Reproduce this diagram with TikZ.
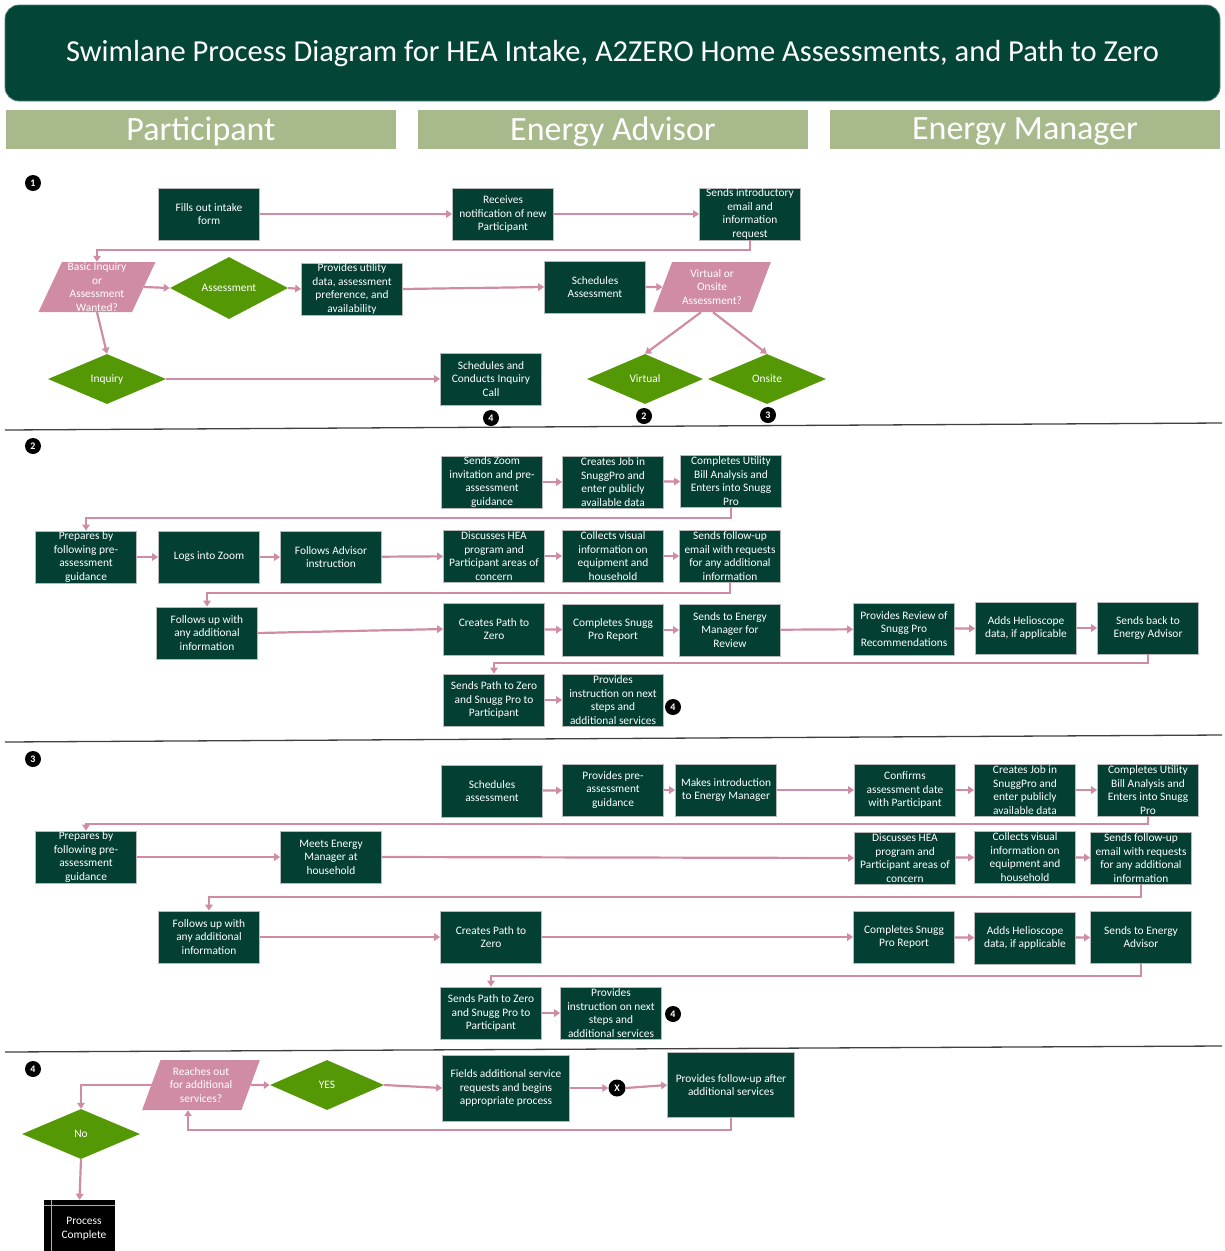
\documentclass[tikz,border=0pt]{standalone}
\usepackage{fontspec}
\setmainfont{Carlito}
\usetikzlibrary{shapes.geometric,arrows.meta}
\definecolor{hdr}{RGB}{3,70,56}
\definecolor{boxg}{RGB}{4,63,52}
\definecolor{laneg}{RGB}{168,186,140}
\definecolor{pinkc}{RGB}{208,140,164}
\definecolor{dgreen}{RGB}{84,152,6}
\newcommand\bxf{\fontsize{11.4}{13.6}\selectfont}
\tikzset{
  box/.style={rectangle, fill=boxg, draw=gray!55, line width=0.7pt, text=white,
    minimum width=101pt, minimum height=52pt, inner sep=0pt, align=center, font=\bxf},
  dia/.style={diamond, fill=dgreen, text=white, inner sep=0pt, minimum width=118pt,
    minimum height=50pt, font=\bxf},
  para/.style={trapezium, trapezium left angle=68, trapezium right angle=112,
    trapezium stretches=true, fill=pinkc, text=white, minimum width=118pt,
    minimum height=50pt, inner sep=0pt, align=center, font=\bxf},
  arr/.style={draw=pinkc, line width=2.2pt, -{Triangle[length=6pt,width=7.5pt]}},
  num/.style={circle, fill=black, text=white, minimum size=16pt, inner sep=0pt,
    font=\fontsize{10}{10}\selectfont\bfseries},
  lane/.style={rectangle, fill=laneg, minimum width=390pt,
    minimum height=39pt, inner sep=0pt},
  lanetxt/.style={text=white, inner sep=0pt, font=\fontsize{34}{36}\selectfont},
  sep/.style={draw=black!75, line width=1.3pt},
}
\begin{document}
\begin{tikzpicture}[x=1pt,y=-1pt]
\useasboundingbox (0,0) rectangle (1225,1251);
% header
\node[fill=hdr, rounded corners=14pt, draw=hdr!70!white, line width=0.8pt,
  minimum width=1215pt, minimum height=96pt] (title) at (612.5,53) {};
\node[text=white, font=\fontsize{30.5}{33}\selectfont, inner sep=0pt] (titletxt) at (612.5,54)
  {Swimlane Process Diagram for HEA Intake, A2ZERO Home Assessments, and Path to Zero};
\node[lane] (lp) at (201,129.5) {};
\node[lane] (la) at (613,129.5) {};
\node[lane] (lm) at (1025,129.5) {};
\node[lanetxt] (lpt) at (201,131.5) {Participant};
\node[lanetxt] (lat) at (613,131.5) {Energy Advisor};
\node[lanetxt] (lmt) at (1025,131.5) {Energy Manager};
% separators
\draw[sep] (5,430) -- (1222,423);
\draw[sep] (5,742) -- (1222,735);
\draw[sep] (5,1052) -- (1222,1046);
% section numbers
\node[num] (s1) at (33,183) {1};
\node[num] (s2) at (33,446) {2};
\node[num] (s3) at (33,759) {3};
\node[num] (s4) at (33,1069) {4};

% ---------- Section 1
\node[box] (fill) at (209,214) {Fills out intake\\form};
\node[box] (recv) at (503,214) {Receives\\notification of new\\Participant};
\node[box] (intro) at (750,214) {Sends introductory\\email and\\information\\request};
\node[para] (bq) at (97,287) {Basic Inquiry\\or\\Assessment\\Wanted?};
\node[dia] (assess) at (229,288) {Assessment};
\node[box] (util) at (352,289) {Provides utility\\data, assessment\\preference, and\\availability};
\node[box] (schA) at (595,287) {Schedules\\Assessment};
\node[para] (vo) at (712,287) {Virtual or\\Onsite\\Assessment?};
\node[dia] (inq) at (107,379) {Inquiry};
\node[box] (call) at (491,379) {Schedules and\\Conducts Inquiry\\Call};
\node[dia, minimum width=116pt] (virt) at (645,379) {Virtual};
\node[dia] (ons) at (767,379) {Onsite};
\node[num] (n1a) at (491,418) {4};
\node[num] (n1b) at (644,416) {2};
\node[num] (n1c) at (768,415) {3};

\draw[arr] (fill) -- (recv);
\draw[arr] (recv) -- (intro);
\draw[arr] (intro.south) -- ++(0,10) -| (bq.north);
\draw[arr] (bq.east) -- (assess.west);
\draw[arr] (assess.east) -- (util.west);
\draw[arr] (util.east) -- (schA.west);
\draw[arr] (schA.east) -- (vo.west);
\draw[arr] ([xshift=-11pt]vo.south) -- (virt.north);
\draw[arr] ([xshift=1pt]vo.south) -- (ons.north);
\draw[arr] (bq.south) -- (inq.north);
\draw[arr] (inq.east) -- (call.west);

% ---------- Section 2
\node[box] (zoom2) at (492,482) {Sends Zoom\\invitation and pre-\\assessment\\guidance};
\node[box] (job2) at (613,482) {Creates Job in\\SnuggPro and\\enter publicly\\available data};
\node[box] (cub2) at (731,481) {Completes Utility\\Bill Analysis and\\Enters into Snugg\\Pro};
\node[box] (prep2) at (86,557) {Prepares by\\following pre-\\assessment\\guidance};
\node[box] (logs2) at (209,557) {Logs into Zoom};
\node[box] (fai2) at (331,557) {Follows Advisor\\instruction};
\node[box] (dh2) at (494,556) {Discusses HEA\\program and\\Participant areas of\\concern};
\node[box] (cv2) at (613,556) {Collects visual\\information on\\equipment and\\household};
\node[box] (sf2) at (730,556) {Sends follow-up\\email with requests\\for any additional\\information};
\node[box] (fu2) at (207,633) {Follows up with\\any additional\\information};
\node[box] (cp2) at (494,629) {Creates Path to\\Zero};
\node[box] (cs2) at (613,630) {Completes Snugg\\Pro Report};
\node[box] (sem2) at (730,630) {Sends to Energy\\Manager for\\Review};
\node[box] (pr2) at (904,629) {Provides Review of\\Snugg Pro\\Recommendations};
\node[box] (ah2) at (1026,628) {Adds Helioscope\\data, if applicable};
\node[box] (sb2) at (1148,628) {Sends back to\\Energy Advisor};
\node[box] (sp2) at (494,700) {Sends Path to Zero\\and Snugg Pro to\\Participant};
\node[box] (pi2) at (613,700) {Provides\\instruction on next\\steps and\\additional services};
\node[num] (n2) at (673,707) {4};

\draw[arr] (zoom2) -- (job2);
\draw[arr] (job2) -- (cub2);
\draw[arr] (cub2.south) -- ++(0,11) -| (prep2.north);
\draw[arr] (prep2) -- (logs2);
\draw[arr] (logs2) -- (fai2);
\draw[arr] (fai2) -- (dh2);
\draw[arr] (dh2) -- (cv2);
\draw[arr] (cv2) -- (sf2);
\draw[arr] (sf2.south) -- ++(0,11) -| (fu2.north);
\draw[arr] (fu2.east) -- (cp2.west);
\draw[arr] (cp2) -- (cs2);
\draw[arr] (cs2) -- (sem2);
\draw[arr] (sem2) -- (pr2);
\draw[arr] (pr2) -- (ah2);
\draw[arr] (ah2) -- (sb2);
\draw[arr] (sb2.south) -- ++(0,9) -| (sp2.north);
\draw[arr] (sp2) -- (pi2);

% ---------- Section 3
\node[box] (sa3) at (492,791) {Schedules\\assessment};
\node[box] (pg3) at (613,790) {Provides pre-\\assessment\\guidance};
\node[box] (mi3) at (726,790) {Makes introduction\\to Energy Manager};
\node[box] (ca3) at (905,790) {Confirms\\assessment date\\with Participant};
\node[box] (cj3) at (1025,790) {Creates Job in\\SnuggPro and\\enter publicly\\available data};
\node[box] (cu3) at (1148,790) {Completes Utility\\Bill Analysis and\\Enters into Snugg\\Pro};
\node[box] (prep3) at (86,857) {Prepares by\\following pre-\\assessment\\guidance};
\node[box] (me3) at (331,857) {Meets Energy\\Manager at\\household};
\node[box] (dh3) at (905,858) {Discusses HEA\\program and\\Participant areas of\\concern};
\node[box] (cv3) at (1025,857) {Collects visual\\information on\\equipment and\\household};
\node[box] (sf3) at (1141,858) {Sends follow-up\\email with requests\\for any additional\\information};
\node[box] (fu3) at (209,937) {Follows up with\\any additional\\information};
\node[box] (cp3) at (491,937) {Creates Path to\\Zero};
\node[box] (cs3) at (904,937) {Completes Snugg\\Pro Report};
\node[box] (ah3) at (1025,938) {Adds Helioscope\\data, if applicable};
\node[box] (se3) at (1141,937) {Sends to Energy\\Advisor};
\node[box] (sp3) at (491,1013) {Sends Path to Zero\\and Snugg Pro to\\Participant};
\node[box] (pi3) at (611,1013) {Provides\\instruction on next\\steps and\\additional services};
\node[num] (n3) at (673,1014) {4};

\draw[arr] (sa3) -- (pg3);
\draw[arr] (pg3) -- (mi3);
\draw[arr] (mi3) -- (ca3);
\draw[arr] (ca3) -- (cj3);
\draw[arr] (cj3) -- (cu3);
\draw[arr] (cu3.south) -- ++(0,8) -| (prep3.north);
\draw[arr] (prep3.east) -- (me3.west);
\draw[arr] (me3.east) -- (dh3.west);
\draw[arr] (dh3) -- (cv3);
\draw[arr] (cv3) -- (sf3);
\draw[arr] (sf3.south) -- ++(0,13) -| (fu3.north);
\draw[arr] (fu3) -- (cp3);
\draw[arr] (cp3) -- (cs3);
\draw[arr] (cs3) -- (ah3);
\draw[arr] (ah3) -- (se3);
\draw[arr] (se3.south) -- ++(0,13) -| (sp3.north);
\draw[arr] (sp3) -- (pi3);

% ---------- Section 4
\node[para] (ro4) at (201,1085) {Reaches out\\for additional\\services?};
\node[dia, minimum width=114pt] (yes4) at (327,1085) {YES};
\node[box, minimum width=127pt, minimum height=66pt] (fa4) at (506,1088)
  {Fields additional service\\requests and begins\\appropriate process};
\node[num, minimum size=17pt] (x4) at (617,1088) {X};
\node[box, minimum width=127pt, minimum height=65pt] (pf4) at (731,1085)
  {Provides follow-up after\\additional services};
\node[dia] (no4) at (81,1134) {No};
\node[rectangle, fill=black, minimum width=71pt, minimum height=56pt, inner sep=0pt] (pc) at (79.5,1228) {};
\draw[gray!60, line width=0.8pt] ([xshift=8pt]pc.north west) -- ([xshift=8pt]pc.south west);
\draw[gray!60, line width=0.8pt] ([yshift=-6pt]pc.north west) -- ([yshift=-6pt]pc.north east);
\node[text=white, align=center, font=\bxf] (pct) at (84,1229) {Process\\Complete};

\draw[arr] (ro4.east) -- (yes4.west);
\draw[arr] (yes4.east) -- (fa4.west);
\draw[arr] (fa4.east) -- (x4.west);
\draw[arr] (x4.east) -- (pf4.west);
\draw[arr] (pf4.south) -- ++(0,12) -| ([xshift=-13pt]ro4.south);
\draw[arr] ([xshift=6pt]ro4.west) -| (no4.north);
\draw[arr] (no4.south) -- (pc.north);
\end{tikzpicture}
\end{document}
